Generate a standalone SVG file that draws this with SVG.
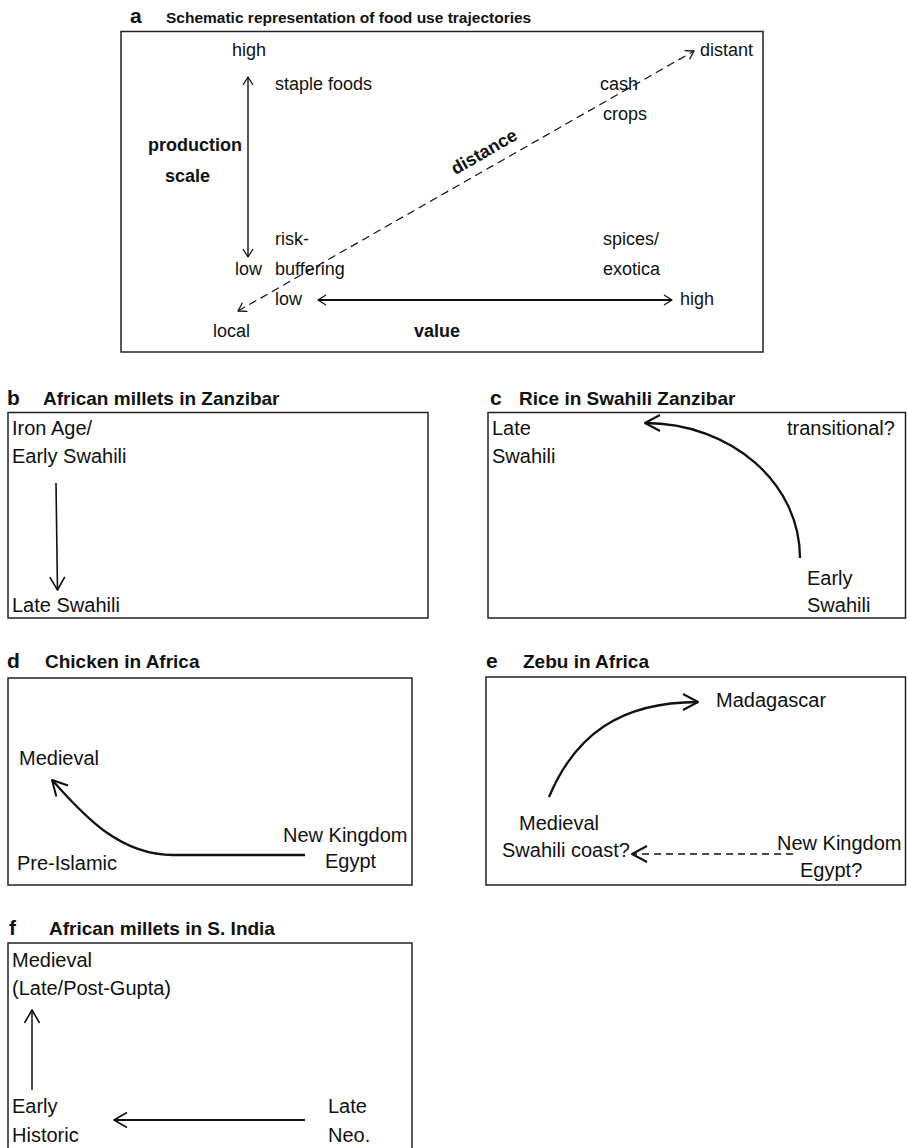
<svg xmlns="http://www.w3.org/2000/svg" width="907" height="1148" viewBox="0 0 907 1148">
<style>
.box{fill:none;stroke:#222;stroke-width:1.5}
.t{font-family:"Liberation Sans",Arial,sans-serif;font-size:20px;fill:#111}
.ta{font-size:18px}
.b{font-weight:bold}
.ttl{font-family:"Liberation Sans",Arial,sans-serif;font-weight:bold;font-size:19px;fill:#111}
.let{font-family:"Liberation Sans",Arial,sans-serif;font-weight:bold;font-size:21px;fill:#111}
.ln{fill:none;stroke:#111;stroke-width:1.4}
.cv{fill:none;stroke:#111;stroke-width:2.3}
.dash{stroke-dasharray:8 5}
</style>
<defs>
<marker id="hA" markerUnits="userSpaceOnUse" markerWidth="20" markerHeight="20" viewBox="-15 -10 20 20" refX="0" refY="0" orient="auto-start-reverse" overflow="visible"><path d="M-8,-5 L0,0 L-8,5" fill="none" stroke="#111" stroke-width="1.3" stroke-linejoin="round"/></marker>
<marker id="hB" markerUnits="userSpaceOnUse" markerWidth="24" markerHeight="24" viewBox="-18 -12 24 24" refX="0" refY="0" orient="auto-start-reverse" overflow="visible"><path d="M-13,-7.5 L0,0 L-13,7.5" fill="none" stroke="#111" stroke-width="1.6" stroke-linejoin="round"/></marker>
<marker id="hC" markerUnits="userSpaceOnUse" markerWidth="24" markerHeight="24" viewBox="-18 -12 24 24" refX="0" refY="0" orient="auto-start-reverse" overflow="visible"><path d="M-15,-8 L0,0 L-15,8" fill="none" stroke="#111" stroke-width="2" stroke-linejoin="round"/></marker>
</defs>
<rect width="907" height="1148" fill="#fff"/>

<g id="panel-a">
<text class="let" x="130" y="23">a</text>
<text class="ttl" x="166" y="23" style="font-size:15.5px">Schematic representation of food use trajectories</text>
<rect class="box" x="121" y="31.5" width="642" height="320.5"/>
<g id="a-high-top"><text class="t ta" x="232" y="56">high</text></g>
<g id="a-staple"><text class="t ta" x="275" y="90">staple foods</text></g>
<g id="a-cash"><text class="t ta" x="600" y="90">cash</text><text class="t ta" x="603" y="120">crops</text></g>
<g id="a-distant"><text class="t ta" x="700" y="56">distant</text></g>
<g id="a-production"><text class="t ta b" x="148" y="151">production</text><text class="t ta b" x="165" y="182">scale</text></g>
<g id="a-distance"><text class="t ta b" x="487" y="157" text-anchor="middle" transform="rotate(-30 487 157)">distance</text></g>
<g id="a-risk"><text class="t ta" x="275" y="245">risk-</text><text class="t ta" x="275" y="275">buffering</text></g>
<g id="a-spices"><text class="t ta" x="603" y="245">spices/</text><text class="t ta" x="603" y="275">exotica</text></g>
<g id="a-low-prod"><text class="t ta" x="235" y="275">low</text></g>
<g id="a-low-val"><text class="t ta" x="275" y="305">low</text></g>
<g id="a-high-val"><text class="t ta" x="680" y="305">high</text></g>
<g id="a-local"><text class="t ta" x="213" y="337">local</text></g>
<g id="a-value"><text class="t ta b" x="414" y="337">value</text></g>
</g>

<g id="panel-b">
<text class="let" x="7" y="405">b</text>
<text class="ttl" x="43" y="405">African millets in Zanzibar</text>
<rect class="box" x="8" y="412.5" width="420" height="205.5"/>
<g id="b-iron"><text class="t" x="12" y="435">Iron Age/</text><text class="t" x="12" y="463">Early Swahili</text></g>
<g id="b-late"><text class="t" x="12" y="612">Late Swahili</text></g>
</g>

<g id="panel-c">
<text class="let" x="490" y="405">c</text>
<text class="ttl" x="519" y="405">Rice in Swahili Zanzibar</text>
<rect class="box" x="488" y="412.5" width="417.5" height="205.5"/>
<g id="c-late"><text class="t" x="492" y="435">Late</text><text class="t" x="492" y="463">Swahili</text></g>
<g id="c-trans"><text class="t" x="787" y="435">transitional?</text></g>
<g id="c-early"><text class="t" x="807" y="585">Early</text><text class="t" x="807" y="612">Swahili</text></g>
</g>

<g id="panel-d">
<text class="let" x="7" y="668">d</text>
<text class="ttl" x="45" y="668">Chicken in Africa</text>
<rect class="box" x="8" y="678" width="404" height="207"/>
<g id="d-medieval"><text class="t" x="19" y="765">Medieval</text></g>
<g id="d-pre"><text class="t" x="17" y="870">Pre-Islamic</text></g>
<g id="d-nk"><text class="t" x="283" y="842">New Kingdom</text><text class="t" x="325" y="868">Egypt</text></g>
</g>

<g id="panel-e">
<text class="let" x="486" y="668">e</text>
<text class="ttl" x="523" y="668">Zebu in Africa</text>
<rect class="box" x="486" y="677" width="419.5" height="208"/>
<g id="e-madagascar"><text class="t" x="716" y="707">Madagascar</text></g>
<g id="e-medieval"><text class="t" x="519" y="830">Medieval</text><text class="t" x="502" y="857">Swahili coast?</text></g>
<g id="e-nk"><text class="t" x="777" y="850">New Kingdom</text><text class="t" x="800" y="877">Egypt?</text></g>
</g>

<g id="panel-f">
<text class="let" x="9" y="935">f</text>
<text class="ttl" x="49" y="935">African millets in S. India</text>
<rect class="box" x="8" y="943" width="404" height="230"/>
<g id="f-medieval"><text class="t" x="12" y="967">Medieval</text><text class="t" x="12" y="995">(Late/Post-Gupta)</text></g>
<g id="f-early"><text class="t" x="12" y="1113">Early</text><text class="t" x="12" y="1142">Historic</text></g>
<g id="f-lateneo"><text class="t" x="328" y="1113">Late</text><text class="t" x="328" y="1142">Neo.</text></g>
</g>

<g id="connectors">
<line class="ln" x1="248" y1="77" x2="248" y2="257" marker-start="url(#hA)" marker-end="url(#hA)"/>
<line class="ln" x1="318" y1="300" x2="672" y2="300" marker-start="url(#hA)" marker-end="url(#hA)" style="stroke-width:1.8"/>
<line class="ln dash" x1="238" y1="311" x2="694" y2="51" marker-start="url(#hA)" marker-end="url(#hA)" style="stroke-width:1.2"/>
<line class="ln" x1="56" y1="483" x2="57.5" y2="590" marker-end="url(#hB)" style="stroke-width:1.6"/>
<path class="cv" d="M800,558 C800,483 731,423 645,423" marker-end="url(#hC)"/>
<path class="cv" d="M305,855 L173,855 C115,855 78,808 52,780" marker-end="url(#hC)"/>
<path class="cv" d="M549,797 C575,735 620,702 698,702" marker-end="url(#hC)"/>
<line class="ln dash" x1="793" y1="854" x2="632" y2="854" marker-end="url(#hC)" style="stroke-width:1.6;stroke-dasharray:7 5"/>
<line class="ln" x1="32" y1="1090" x2="32" y2="1010" marker-end="url(#hB)" style="stroke-width:1.5"/>
<line class="ln" x1="305" y1="1120" x2="114" y2="1120" marker-end="url(#hB)" style="stroke-width:1.8"/>
</g>
</svg>
